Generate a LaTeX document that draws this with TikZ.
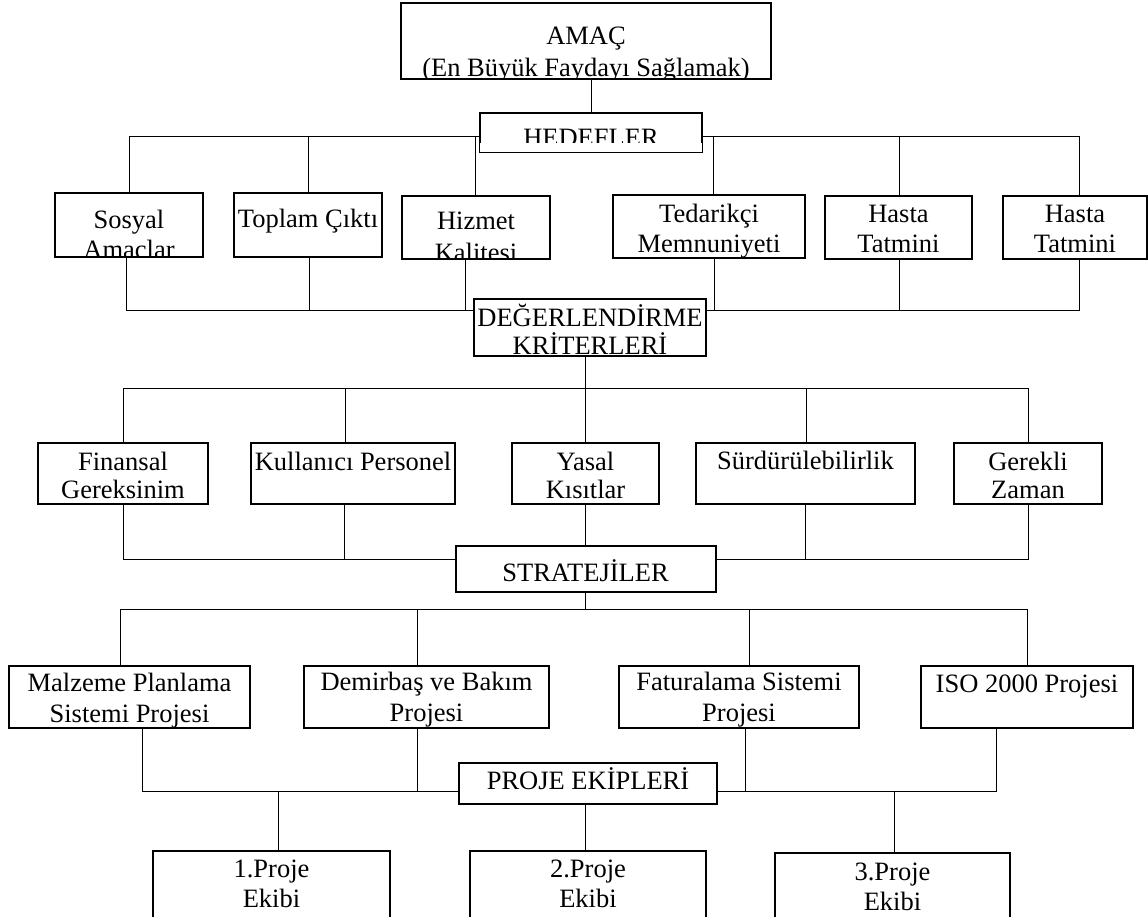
\documentclass[tikz,border=0pt]{standalone}
\usepackage{fontspec}
\setmainfont{Liberation Serif}
\usetikzlibrary{backgrounds}
\newcommand{\boxfont}{\fontsize{26.5}{30}\selectfont}

\begin{document}
\begin{tikzpicture}[x=1pt, y=1pt,
  box/.style 2 args={draw, line width=2pt, fill=white, inner sep=0pt,
    path picture={\node[font=\boxfont, inner sep=0pt, anchor=base]
      at ([yshift=-#1]path picture bounding box.north) {\begin{tabular}[t]{@{}c@{}}#2\end{tabular}};}},
  link/.style={line width=1.9pt}]
  \useasboundingbox (0,0) rectangle (1148,-917);

  \node[box={42}{AMAÇ\\[2pt](En Büyük Faydayı Sağlamak)}, minimum width=370pt, minimum height=76pt] (amac) at (586,-41) {};
  \node[box={34}{HEDEFLER}, minimum width=222pt, minimum height=39pt] (hedef) at (591,-132.5) {};
  \fill[white] ([shift={(1.2,1.2)}]hedef.south west) rectangle ([shift={(-1.2,10)}]hedef.south east);

  \node[box={36}{Sosyal\\Amaclar}, minimum width=148pt, minimum height=64pt] (sosyal) at (129,-225) {};
  \node[box={35}{Toplam Çıktı}, minimum width=148pt, minimum height=64pt] (toplam) at (308,-225) {};
  \node[box={34}{Hizmet\\[2pt]Kalitesi}, minimum width=148pt, minimum height=63pt] (hizmet) at (476,-227.5) {};
  \node[box={28}{Tedarikçi\\Memnuniyeti}, minimum width=192pt, minimum height=63pt] (tedarik) at (709,-226.5) {};
  \node[box={27}{Hasta\\Tatmini}, minimum width=147pt, minimum height=63pt] (hasta1) at (898.5,-227.5) {};
  \node[box={27}{Hasta\\Tatmini}, minimum width=144pt, minimum height=63pt] (hasta2) at (1075,-227.5) {};

  \node[box={27}{DEĞERLENDİRME\\[-2pt]KRİTERLERİ}, minimum width=232pt, minimum height=57pt] (deger) at (590,-327.5) {};

  \node[box={27}{Finansal\\[-2pt]Gereksinim}, minimum width=170pt, minimum height=61pt] (finans) at (123,-473.5) {};
  \node[box={27}{Kullanıcı Personel}, minimum width=204pt, minimum height=61pt] (kullan) at (353,-473.5) {};
  \node[box={27}{Yasal\\[-2pt]Kısıtlar}, minimum width=147pt, minimum height=61pt] (yasal) at (585.5,-473.5) {};
  \node[box={26}{Sürdürülebilirlik}, minimum width=219pt, minimum height=61pt] (surdur) at (805.5,-473.5) {};
  \node[box={27}{Gerekli\\[-2pt]Zaman}, minimum width=148pt, minimum height=61pt] (gerekli) at (1028,-473.5) {};

  \node[box={35}{STRATEJİLER}, minimum width=260pt, minimum height=46pt] (strat) at (585.5,-569) {};

  \node[box={25}{Malzeme Planlama\\[1pt]Sistemi Projesi}, minimum width=241pt, minimum height=62pt] (malz) at (129.5,-697) {};
  \node[box={24}{Demirbaş ve Bakım\\[1pt]Projesi}, minimum width=245pt, minimum height=62pt] (demir) at (426.5,-697) {};
  \node[box={24}{Faturalama Sistemi\\[1pt]Projesi}, minimum width=240pt, minimum height=62pt] (fatura) at (739,-697) {};
  \node[box={26}{ISO 2000 Projesi}, minimum width=212pt, minimum height=62pt] (iso) at (1027,-697) {};

  \node[box={26}{PROJE EKİPLERİ}, minimum width=258pt, minimum height=41pt] (proje) at (588,-783.5) {};

  \node[box={26}{1.Proje\\Ekibi}, minimum width=237pt, minimum height=80pt] (ekip1) at (271.5,-891) {};
  \node[box={26}{2.Proje\\Ekibi}, minimum width=236pt, minimum height=80pt] (ekip2) at (588,-891) {};
  \node[box={27}{3.Proje\\Ekibi}, minimum width=235pt, minimum height=80pt] (ekip3) at (892.5,-893) {};

  \coordinate (hbar) at (0,-136);
  \coordinate (dbar) at (0,-310);
  \coordinate (kbar) at (0,-388);
  \coordinate (sbar) at (0,-559);
  \coordinate (pbar) at (0,-609);
  \coordinate (ebar) at (0,-791);

  \begin{scope}[on background layer, link]
    \draw (hedef.north) -- (hedef.north |- amac.south);
    \draw (sosyal.north) |- ([xshift=4pt]hasta2.north |- hbar) -- ([xshift=4pt]hasta2.north);
    \foreach \n/\d in {toplam/0, hizmet/-1, tedarik/4, hasta1/1}
      \draw ([xshift=\d pt]\n.north) -- ([xshift=\d pt]\n.north |- hbar);

    \draw ([xshift=-3pt]sosyal.south) |- ([xshift=4pt]hasta2.south |- dbar) -- ([xshift=4pt]hasta2.south);
    \foreach \n/\d in {toplam/1, hizmet/-11, tedarik/5, hasta1/1}
      \draw ([xshift=\d pt]\n.south) -- ([xshift=\d pt]\n.south |- dbar);

    \draw (yasal.north) -- (yasal.north |- deger.south);
    \draw (finans.north) |- (gerekli.north |- kbar) -- (gerekli.north);
    \foreach \n/\d in {kullan/-8, surdur/1}
      \draw ([xshift=\d pt]\n.north) -- ([xshift=\d pt]\n.north |- kbar);

    \draw (finans.south) |- (gerekli.south |- sbar) -- (gerekli.south);
    \foreach \n/\d in {kullan/-9, surdur/0}
      \draw ([xshift=\d pt]\n.south) -- ([xshift=\d pt]\n.south |- sbar);
    \draw (yasal.south) -- (strat.north);

    \draw (strat.south) -- (strat.south |- pbar);
    \draw ([xshift=-9.5pt]malz.north) |- (iso.north |- pbar) -- (iso.north);
    \foreach \n/\d in {demir/-9.5, fatura/10}
      \draw ([xshift=\d pt]\n.north) -- ([xshift=\d pt]\n.north |- pbar);

    \draw ([xshift=12.5pt]malz.south) |- ([xshift=-31pt]iso.south |- ebar) -- ([xshift=-31pt]iso.south);
    \foreach \n/\d in {demir/-9.5, fatura/6}
      \draw ([xshift=\d pt]\n.south) -- ([xshift=\d pt]\n.south |- ebar);
    \draw ([xshift=6.5pt]ekip1.north) -- ([xshift=6.5pt]ekip1.north |- ebar);
    \draw ([xshift=-3pt]proje.south) -- ([xshift=-3pt]ekip2.north);
    \draw ([xshift=1.5pt]ekip3.north) -- ([xshift=1.5pt]ekip3.north |- ebar);
  \end{scope}
\end{tikzpicture}
\end{document}
